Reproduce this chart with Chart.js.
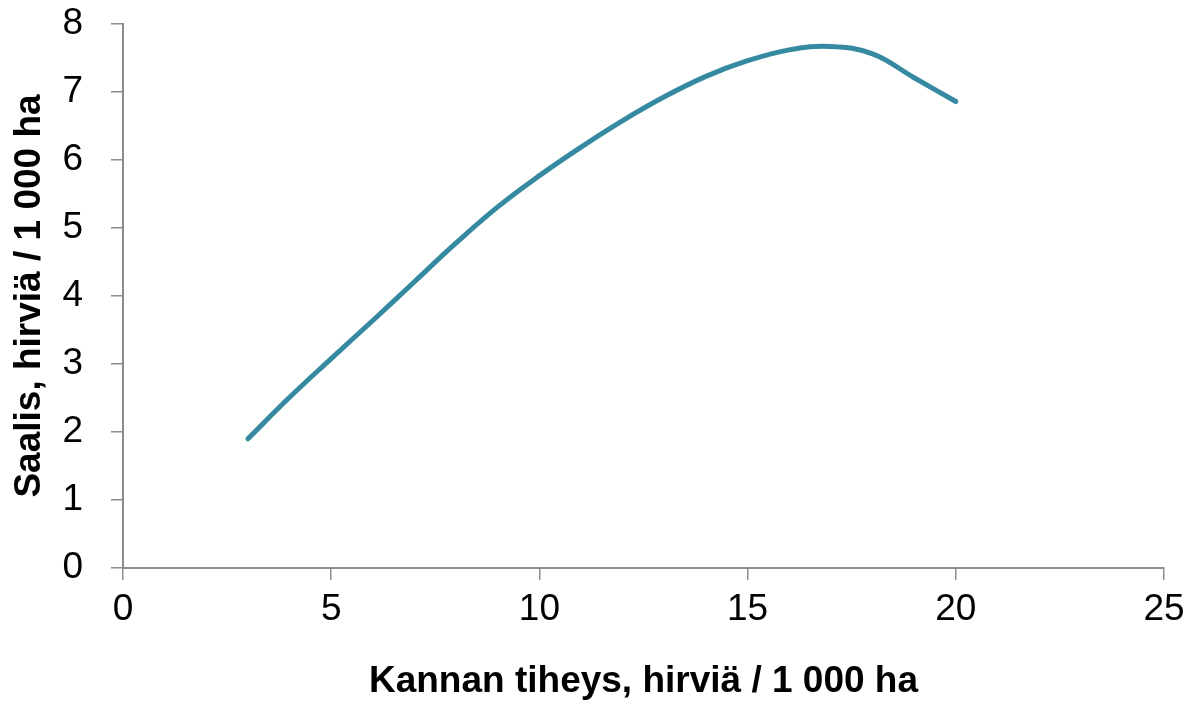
<!DOCTYPE html>
<html>
<head>
<meta charset="utf-8">
<script src="https://cdn.jsdelivr.net/npm/chart.js@4/dist/chart.umd.min.js"></script>
<style>
  html, body { margin: 0; padding: 0; background: #fff; }
  #wrap { width: 1189px; height: 704px; }
</style>
</head>
<body>
<div id="wrap"><canvas id="c" width="1189" height="704"></canvas></div>
<script>
const densityValues = [3, 4, 5, 6, 7, 8, 9, 10, 11, 12, 13, 14, 15, 16, 17, 18, 19, 20];
const harvestValues = [1.90, 2.51, 3.08, 3.64, 4.21, 4.78, 5.31, 5.77, 6.19, 6.58, 6.93, 7.23, 7.46, 7.62, 7.67, 7.56, 7.21, 6.86];
const xTickValues = [0, 5, 10, 15, 20, 25];
const yTickValues = [0, 1, 2, 3, 4, 5, 6, 7, 8];
const xTitle = 'Kannan tiheys, hirviä / 1 000 ha';
const yTitle = 'Saalis, hirviä / 1 000 ha';

const points = densityValues.map((x, i) => ({ x: x, y: harvestValues[i] }));
const axisColor = '#8c8c8c';
const fontFamily = '"Liberation Sans", Arial, sans-serif';

new Chart(document.getElementById('c'), {
  type: 'scatter',
  data: {
    datasets: [{
      data: points,
      showLine: true,
      borderColor: '#3589a0',
      borderWidth: 5,
      pointRadius: 0,
      tension: 0.4,
      borderCapStyle: 'round',
      borderJoinStyle: 'round',
      fill: false
    }]
  },
  options: {
    responsive: false,
    animation: false,
    layout: { padding: { top: 24, right: 25, left: 0, bottom: 0 } },
    plugins: { legend: { display: false }, tooltip: { enabled: false } },
    scales: {
      x: {
        type: 'linear',
        min: 0, max: 25,
        afterBuildTicks: (s) => { s.ticks = xTickValues.map(v => ({ value: v })); },
        afterFit: (s) => { s.height = 136; s.paddingRight = 0; s.paddingLeft = 0; },
        grid: { display: true, drawOnChartArea: false, color: axisColor, tickLength: 12, lineWidth: 1.5 },
        border: { display: true, color: axisColor, width: 2 },
        ticks: { color: '#000', font: { family: fontFamily, size: 37 }, padding: 8 },
        title: { display: true, text: xTitle, color: '#000', font: { family: fontFamily, size: 37, weight: 'bold' }, padding: { top: 0, bottom: 0 } }
      },
      y: {
        type: 'linear',
        min: 0, max: 8,
        afterBuildTicks: (s) => { s.ticks = yTickValues.map(v => ({ value: v })); },
        afterFit: (s) => { s.width = 123; s.paddingTop = 0; s.paddingBottom = 0; },
        grid: { display: true, drawOnChartArea: false, color: axisColor, tickLength: 12, lineWidth: 1.5 },
        border: { display: true, color: axisColor, width: 2 },
        ticks: { color: '#000', font: { family: fontFamily, size: 37 }, padding: 28 },
        title: { display: true, text: yTitle, color: '#000', font: { family: fontFamily, size: 37, weight: 'bold' }, padding: { top: 8, bottom: 0 } }
      }
    }
  }
});
</script>
</body>
</html>
